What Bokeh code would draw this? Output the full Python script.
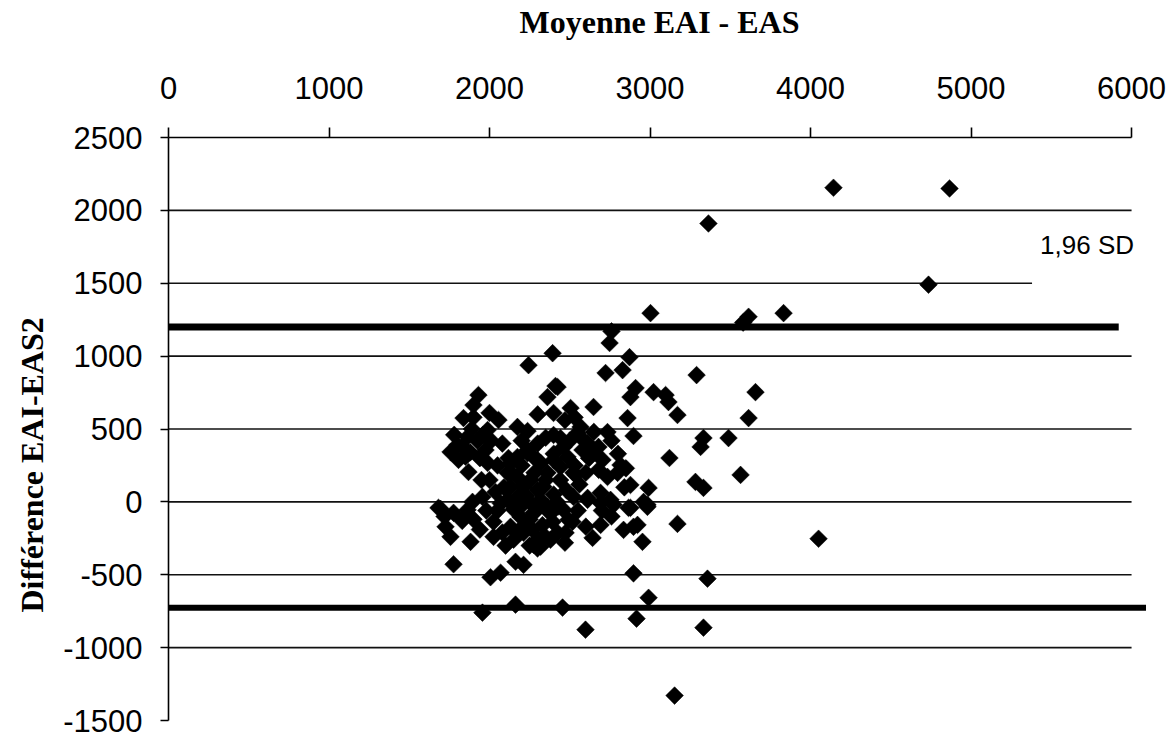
import math
from bokeh.plotting import figure
from bokeh.models import Range1d, FixedTicker, Title
from bokeh.core.properties import value
from bokeh.embed import file_html
from bokeh.resources import INLINE

# ---------------- data ----------------
mean_vals = [
    4143, 4866, 3364, 4735, 3003, 3614, 3832, 3580, 2760, 2748, 2393, 2243, 2872, 2829, 2723,
    3290, 3657, 2411, 2361, 2910, 2878, 3022, 3097, 3115, 3171, 2860, 3614, 2897, 3333, 3315,
    3489, 3121, 3564, 3283, 3333, 2878, 2991, 2984, 2878, 3171, 2897, 2835, 2953, 2642, 2692,
    4050,
    1776, 2006, 2069, 2162, 2212, 2299, 2897, 3358, 1956, 2162, 2455, 2598, 2916, 2991, 3333,
    3153,
    1931, 1900, 1838, 2056, 2174, 2237, 1988, 1757, 1807, 1869, 1975, 1988, 2118, 2131, 2237,
    2299, 1863, 1925, 1960, 1890, 2010, 1830, 1940, 2000, 2037, 1956, 1894, 1695, 1776, 1726,
    1757, 1882, 2025, 2025, 2131, 2193, 2268, 2150, 2299, 2318, 2424, 2474, 2492, 2393, 2461,
    2523, 2611, 2692, 2754, 2798, 2816, 2735, 2648, 2679, 2611, 2704, 2579, 2735, 2567, 2548,
    2442, 2461, 2399, 2486, 2523, 2442, 2399, 2361, 2318, 2274, 2237, 2174, 2131, 2112, 2174,
    2131, 2112, 2174, 2212, 2255, 2299, 2336, 2318, 2255, 2193, 2361, 2274, 2212, 2648, 2505,
    2399, 2424, 2536, 2611, 2692, 2773, 2866, 2984, 2517, 2922, 1682, 1863, 2274, 2212,
    2200, 2280, 2350, 2400, 2250, 2330, 2380, 2420, 2150, 2090, 2050, 2300, 2180, 2230, 2400,
    2440, 2480, 2530, 2560, 2600, 2580, 2620, 2650, 2680, 2760, 2800, 2850, 2700, 2760, 2840,
    2960, 2550, 2600, 2470, 2430, 2500, 2470, 2530, 2350, 2300, 2200, 2080, 2050, 1950, 2070,
    1980, 1830, 1900, 1940, 1800, 1900, 2000, 2300, 2250, 2380, 2340, 2100, 2080, 1720, 1850,
    1780, 1880,
]
diff_vals = [
    2155, 2150, 1910, 1490, 1295, 1270, 1295, 1230, 1170, 1090, 1020, 938, 993, 904, 884,
    870, 753, 795, 719, 781, 719, 753, 733, 685, 596, 575, 575, 452, 438, 377,
    438, 301, 185, 137, 96, 116, 96, -34, -41, -151, -171, -192, -274, -247, -158,
    -253,
    -428, -517, -486, -411, -432, -320, -490, -527, -760, -705, -725, -877, -801, -658, -863,
    -1329,
    733, 664, 575, 562, 514, 486, 493, 342, 288, 205, 356, 267, 301, 205, 335,
    288, 445, 420, 460, 500, 420, 380, 300, 150, 68, 34, 0, -48, -75, -171,
    -240, -274, -137, -240, -171, -103, -192, -260, -260, -308, -212, -212, -123, -137, -55,
    34, 14, 62, 14, 199, 253, 171, 335, 377, 404, 288, 356, 479, 514, 473,
    438, 377, 459, 308, 199, 240, 288, 199, 267, 308, 356, 308, 267, 199, 171,
    103, 14, 34, 103, 151, 82, 103, 14, -7, -34, -34, -75, -171, 651, 644,
    610, 788, 185, 27, -7, -20, -41, -20, -137, -158, -41, -55, -294, -212,
    250, 200, 150, 50, -120, -160, -80, 0, -50, 100, -60, -50, -200, 40, 330,
    150, 80, 250, 120, 200, 430, 300, 480, 220, 420, 330, 230, -60, -100, 100,
    0, -60, -170, -280, -30, 420, 560, 580, 440, 400, 420, 400, 250, 150, -10,
    -60, -130, -120, -190, 390, 580, 610, 600, -300, -260, -230, -300, -210, -100, 310,
    460, 340,
]

x_ticks = [0, 1000, 2000, 3000, 4000, 5000, 6000]
y_ticks = [-1500, -1000, -500, 0, 500, 1000, 1500, 2000, 2500]
y_tick_labels = {t: str(t) for t in y_ticks}   # plain hyphen for negatives
grid_levels = [-1000, -500, 0, 500, 1000, 1500, 2000]
grid_ends = [6000, 6000, 6000, 6000, 6000, 5380, 6000]

sd_levels = [1200, -726]
sd_ends = [5920, 6090]
sd_widths = [7, 6]
sd_label = "1,96 SD"
sd_label_pos = (5430, 1760)

x_title = "Moyenne EAI - EAS"
y_title = "Différence EAI-EAS2"

# ---------------- figure ----------------
p = figure(
    width=1175, height=734,
    x_range=Range1d(0, 6118), y_range=Range1d(-1527.4, 2500),
    x_axis_location="above",
    output_backend="svg", toolbar_location=None,
    min_border_left=168, min_border_right=25, min_border_top=136, min_border_bottom=10,
)
p.outline_line_color = None
p.xgrid.visible = False
p.ygrid.visible = False
p.background_fill_color = "white"
p.border_fill_color = "white"

# grid lines
p.segment(x0=[0] * len(grid_levels), x1=grid_ends, y0=grid_levels, y1=grid_levels,
          line_color="#111111", line_width=1.7)

# 1.96 SD limits
p.segment(x0=[0] * len(sd_levels), x1=sd_ends, y0=sd_levels, y1=sd_levels,
          line_color="black", line_width=sd_widths)

# points
p.scatter(mean_vals, diff_vals, marker="square", size=12.5, angle=math.pi / 4,
          fill_color="black", line_color="black", line_width=0.5)

p.text(x=[sd_label_pos[0]], y=[sd_label_pos[1]], text=[sd_label],
       text_font=value("Liberation Sans"), text_font_size="26px",
       text_baseline="middle", text_align="left", text_color="black")

# y title (placed lower than centre, like the reference)
p.add_layout(Title(text=y_title, align="left", offset=112, standoff=21,
                   text_font="Liberation Serif", text_font_style="bold",
                   text_font_size="32px", text_color="black"), "left")

# axes
xa = p.xaxis[0]
xa.ticker = FixedTicker(ticks=x_ticks)
xa.bounds = (0, 6000)
xa.minor_tick_line_color = None
xa.major_tick_in = 0
xa.major_tick_out = 10
xa.major_label_standoff = 29
xa.axis_line_width = 1.6
xa.major_tick_line_width = 1.6
xa.major_label_text_font = "Liberation Sans"
xa.major_label_text_font_size = "31px"
xa.major_label_text_color = "black"
xa.axis_label = x_title
xa.axis_label_text_font = "Liberation Serif"
xa.axis_label_text_font_style = "bold"
xa.axis_label_text_font_size = "32px"
xa.axis_label_text_color = "black"
xa.axis_label_standoff = 34

ya = p.yaxis[0]
ya.ticker = FixedTicker(ticks=y_ticks)
ya.bounds = (-1500, 2500)
ya.major_label_overrides = y_tick_labels
ya.minor_tick_line_color = None
ya.major_tick_in = 0
ya.major_tick_out = 8
ya.major_label_standoff = 18
ya.axis_line_width = 1.6
ya.major_tick_line_width = 1.6
ya.major_label_text_font = "Liberation Sans"
ya.major_label_text_font_size = "31px"
ya.major_label_text_color = "black"

open("out.html", "w").write(file_html(p, INLINE))
